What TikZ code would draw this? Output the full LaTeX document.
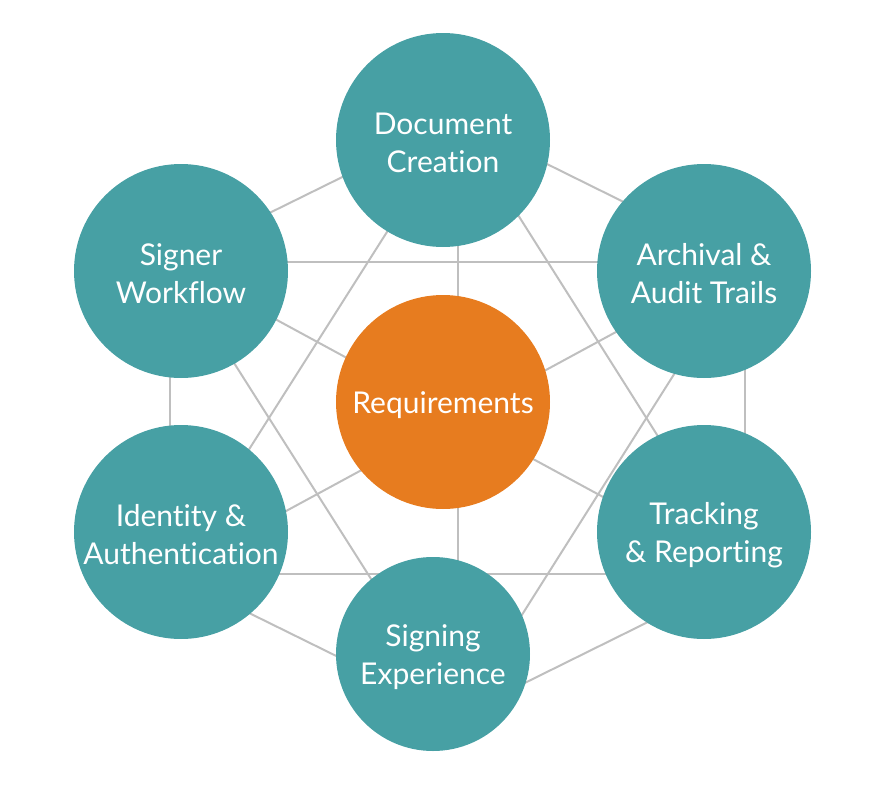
\documentclass[tikz,border=0pt]{standalone}
\usepackage{fontspec}
\setmainfont{Lato}[Ligatures={NoCommon,NoRare,NoContextual}]
\definecolor{teal}{HTML}{47A0A4}
\definecolor{orng}{HTML}{E77C1F}
\definecolor{lgrey}{HTML}{BFBFBF}
\begin{document}
\begin{tikzpicture}[x=1pt,y=-1pt,
  bubble/.style={circle,fill=teal,draw=none,minimum size=214pt,inner sep=0pt},
  txt/.style={text=white,align=center,font=\fontsize{30}{38}\selectfont,inner sep=0pt},
  link/.style={draw=lgrey,line width=2pt}]
\useasboundingbox (0,0) rectangle (895,795);
\coordinate (p0) at (458,418);
\coordinate (p1) at (458,120);
\coordinate (p2) at (745,262);
\coordinate (p3) at (745,574);
\coordinate (p4) at (458,716);
\coordinate (p5) at (170,574);
\coordinate (p6) at (170,262);
\foreach \a/\b in {p1/p2,p2/p3,p3/p4,p4/p5,p5/p6,p6/p1,p1/p3,p2/p4,p3/p5,p4/p6,p5/p1,p6/p2,p1/p4,p2/p5,p3/p6}
  \draw[link] (\a) -- (\b);
\node[bubble] (doc) at (443,140) {};
\node[bubble] (arch) at (704,271) {};
\node[bubble] (track) at (704,532) {};
\node[bubble,minimum size=194pt] (sign) at (433,654) {};
\node[bubble] (ident) at (181,532) {};
\node[bubble] (signer) at (181,271) {};
\node[bubble,fill=orng] (req) at (443,402) {};
\node[txt] (docT) at ([yshift=-3pt]doc.center) {Document\\Creation};
\node[txt] (archT) at ([yshift=-3pt]arch.center) {Archival \&\\Audit Trails};
\node[txt] (trackT) at ([yshift=-3pt]track.center) {Tracking\\\& Reporting};
\node[txt] (signT) at ([yshift=-3pt]sign.center) {Signing\\Experience};
\node[txt] (identT) at ([yshift=-3pt]ident.center) {Identity \&\\Authentication};
\node[txt] (signerT) at ([yshift=-3pt]signer.center) {Signer\\Workflow};
\node[txt] (reqT) at ([yshift=-3pt]req.center) {Requirements};
\end{tikzpicture}
\end{document}
